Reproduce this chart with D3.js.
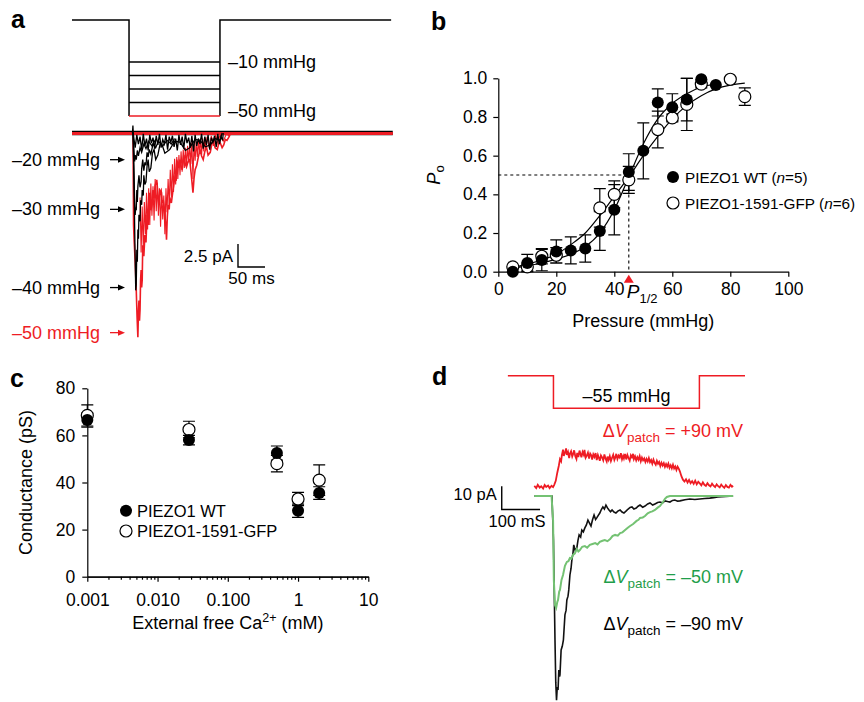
<!DOCTYPE html>
<html><head><meta charset="utf-8">
<script src="https://cdn.jsdelivr.net/npm/d3@7"></script>
<style>body{margin:0;background:#fff}</style>
</head><body>
<svg id="fig" width="864" height="702"></svg>
<script>
// ================= DATA =================
// Panel a: pressure steps (mmHg) and stimulus timing (ms)
const aStepLevels = [-10, -20, -30, -40, -50];
const aStimTimes = [0, 105.6, 274, 591];          // start, step on, step off, end
const aPeakLabels = ["–20 mmHg", "–30 mmHg", "–40 mmHg", "–50 mmHg"];
const aPeakValues = [-2.9, -8.3, -16.8, -21.7];     // pA, level of arrows
// Panel a current traces [time ms, current pA]
const aRed = [[0,0],[113,0],[114,-10],[115,-11.6],[117,-14],[119,-17.1],[120.5,-20],[122,-22.2],[123,-19.5],[124,-18.2],[125,-20.4],[126,-19.2],[127,-16],[128,-14.9],[129,-16.8],[130,-16],[131,-12.2],[133,-13.4],[135,-11.1],[137,-11.9],[139,-8.9],[141,-10],[142.5,-8.1],[144,-6.5],[146,-8.4],[148,-7.8],[150,-6.2],[152,-7.1],[154,-5.7],[157,-5.1],[159,-6.6],[161,-7.8],[163,-6.4],[165,-6.2],[167,-7.6],[169,-7.3],[171,-8.2],[172,-8.9],[174,-10.2],[175,-11.6],[176.5,-9.1],[178,-7.8],[180,-8.3],[181,-7],[184,-7.6],[187,-6.2],[189,-5.4],[191,-4.6],[193,-5.2],[194,-2.9],[197,-3.8],[200,-2.9],[202,-3.6],[204,-4],[206,-3.1],[207,-2.4],[210,-3.4],[212,-3.7],[215,-3.1],[218,-2.9],[221,-4.6],[224,-6.5],[226,-4.9],[228,-4],[231,-3.5],[234,-2.6],[237,-1.8],[240,-2.5],[243,-2.9],[246,-2],[249,-1.5],[252,-2.4],[256,-2.1],[259,-1.2],[261,-0.8],[265,-1.6],[269,-1.8],[272,-1.1],[274,-1],[278,-1.6],[281,-1.3],[284,-0.7],[287,-0.8],[291,-0.4],[294,0],[594,0]];
const aRedFlicker = [[126,-7],[128,-13],[130,-8],[132,-12.5],[134,-7.5],[136,-11],[138,-6.5],[140,-10.5],[142,-6],[144,-10],[146,-5.5],[148,-9],[150,-5.8],[152,-9.5],[154,-5],[156,-8.5],[158,-5.4],[160,-9],[162,-6],[164,-10.2],[166,-6.4],[168,-9.4],[170,-6.8],[172,-11],[174,-6],[176,-8.6],[178,-5],[180,-7.8],[182,-4],[184,-7],[186,-3.4],[188,-6.4],[190,-2.8],[192,-5.6],[194,-2.6],[196,-5],[198,-2.4],[200,-4.6],[202,-2],[204,-4.2],[206,-1.8],[208,-3.8],[210,-1.6],[212,-3.6],[214,-1.4],[216,-3.2],[218,-1.2],[220,-3.4],[222,-1],[224,-5],[226,-1.1],[228,-3],[230,-0.9],[232,-2.6],[234,-0.8],[236,-2.2],[238,-0.6],[240,-2.4],[242,-0.6],[244,-2],[246,-0.5],[248,-1.8],[250,-0.4],[254,-1.6],[258,-0.3],[262,-1.4],[266,-0.2],[270,-1.1],[274,-0.2],[280,-0.9],[286,-0.1],[292,-0.4]];
const aBlack40 = [[112,0],[112.8,0.8],[113.5,0],[114,-3],[115,-6.2],[116.5,-12],[118,-17.1],[119,-16.5],[120,-12.7],[121,-14],[122,-10.5],[123,-11.5],[124,-8.9],[126,-9.6],[127,-7.3],[129,-7.8],[130,-6.2],[132,-6.8],[133,-4.6],[135,-5.6],[137,-5.3],[139,-3.6],[141,-2.9],[143,-4.2],[146,-3.8],[149,-2.2],[152,-1.8],[155,-2.9],[159,-2.4],[163,-1.2],[167,-1.3],[172,-2.2],[181,-1.8],[190,-0.9],[200,-1],[210,-1.9],[218,-1.6],[228,-0.7],[237,-0.8],[247,-1.5],[256,-1.3],[265,-0.6],[274,-0.8],[278,0]];
const aBlack30 = [[113,0],[114.5,-3.5],[116,-7.4],[117,-8.9],[118,-8.1],[119,-8.4],[120,-6.2],[121,-7.5],[122,-5.8],[124,-4.6],[126,-5.9],[128,-5.3],[129,-3.9],[131,-2.9],[133,-4.1],[135,-3.2],[137,-3.5],[139,-2.1],[141,-2.6],[143,-1.8],[146,-2.3],[150,-1.2],[155,-1.6],[160,-0.9],[168,-1.4],[176,-0.8],[184,-1.2],[190,-0.6]];
const aBlack20 = [[113,0],[115,-2.2],[116,-3.1],[117,-2.4],[119,-2.9],[121,-1.9],[123,-2.5],[126,-1.6],[129,-2.1],[133,-1.2],[137,-1.7],[142,-0.9],[148,-1.4],[155,-0.7]];
const aFlicker = [[113,0],[114,-0.3],[117,-1.6],[120,-0.2],[123,-1.2],[126,-0.4],[129,-1.8],[132,-0.1],[135,-1.4],[138,-0.6],[141,-1.9],[144,-0.2],[147,-1.1],[150,-0.5],[153,-1.7],[156,-0.3],[159,-1.3],[162,-0.1],[165,-1.6],[168,-0.7],[171,-1.2],[174,-0.2],[177,-1.8],[180,-0.4],[183,-1.0],[186,-0.3],[189,-1.5],[192,-0.6],[195,-1.9],[198,-0.2],[201,-1.3],[204,-0.4],[207,-1.7],[210,-0.1],[213,-1.1],[216,-0.5],[219,-1.6],[222,-0.3],[225,-2.0],[228,-0.2],[231,-1.4],[234,-0.6],[237,-1.2],[240,-0.1],[243,-1.7],[246,-0.4],[249,-1.3],[252,-0.2],[255,-1.8],[258,-0.5],[261,-1.0],[264,-0.3],[267,-1.5],[270,-0.1],[273,-1.2],[276,-0.4],[279,-0.8],[280,0]];

// Panel b: open probability vs pressure
const bWTx   = [5,10,15,20,25,30,35,40,45,50,55,60,65,70,75];
const bWTy   = [0.0,0.045,0.06,0.105,0.11,0.12,0.21,0.32,0.515,0.625,0.875,0.85,0.89,0.995,0.965];
const bWTerr = [0,0.045,0.055,0.06,0.07,0.07,0.10,0.13,0.095,0.145,0.07,0.07,0.11,0,0];
const bGFPx  = [5,10,15,20,35,40,45,55,60,65,70,80,85];
const bGFPy  = [0.025,0.025,0.08,0.085,0.33,0.40,0.475,0.735,0.795,0.865,0.97,0.995,0.905];
const bGFPerr= [0,0.02,0.04,0.04,0.10,0.07,0.07,0.095,0.02,0.135,0.02,0,0.045];
const bFitWTx = [5,10,15,20,25,30,35,40,45,50,55,60,65,70,75];
const bFitWTy = [0.02,0.03,0.045,0.065,0.09,0.13,0.2,0.32,0.49,0.66,0.79,0.87,0.92,0.955,0.97];
const bFitGFPx = [5,10,15,20,25,30,35,40,45,50,55,60,65,70,75,80,85];
const bFitGFPy = [0.02,0.04,0.06,0.09,0.14,0.2,0.29,0.39,0.49,0.6,0.7,0.79,0.86,0.91,0.945,0.965,0.975];
const bHalf = 45;
const bXTicks = [0,20,40,60,80,100];
const bYTicks = [0,0.2,0.4,0.6,0.8,1.0];

// Panel c: conductance vs Ca2+
const cX = [0.001, 0.028, 0.5, 1, 2];
const cWT = [66.5, 58, 52.5, 28, 35.5];
const cWTerr = [3, 2, 3, 2.8, 2.7];
const cGFP = [68.5, 62.5, 48, 33, 41];
const cGFPerr = [4.5, 3.5, 3.5, 2.8, 6.5];
const cXTicks = [0.001, 0.01, 0.1, 1, 10];
const cXTickLabels = ["0.001", "0.010", "0.100", "1", "10"];
const cYTicks = [0, 20, 40, 60, 80];

// Panel d: -55 mmHg step, currents at three patch voltages [ms, pA]
const dStimTimes = [-69, 50, 431, 550];
const dStimLevel = -55;
const dRed = [[0,4.3],[5,3.4],[9,4.8],[14,3.6],[18,4.2],[23,3.2],[27,4.7],[31,3.9],[36,4.5],[40,3.4],[45,4.4],[49,3.8],[52,4.8],[56,6.5],[60,10],[64,13],[67,15.8],[70,14.9],[72,17.5],[75,19.9],[77,17.2],[80,18.6],[83,20.4],[85,17.6],[88,18.9],[91,16.3],[93,18.1],[96,19.2],[99,16.9],[101,17.8],[104,19.6],[107,17.1],[110,15.9],[112,18.5],[115,16.7],[118,19.5],[120,18.3],[123,16.6],[126,18.9],[129,17.7],[131,19.8],[134,16.4],[137,17.3],[140,18.6],[143,16.1],[146,18.2],[149,17.4],[151,15.6],[154,17.9],[157,16.8],[160,18.4],[163,15.4],[166,17.6],[169,16.2],[171,15.1],[174,17.4],[177,16.6],[180,15.3],[183,17.8],[186,16],[189,14.8],[191,16.9],[194,15.5],[197,17.1],[200,15],[203,16.4],[206,17.7],[209,15.5],[212,16.8],[214,18.1],[217,15.9],[220,17.3],[223,16.5],[226,18.4],[229,15.8],[232,17.2],[234,16.1],[237,18],[240,15.7],[243,17.6],[246,16.3],[249,15.2],[252,17.5],[255,16.6],[258,18.1],[260,15.9],[263,17],[266,15.3],[269,16.7],[272,15.6],[275,17.1],[278,14.9],[281,16.5],[284,15.3],[287,16.1],[290,14.6],[293,15.9],[296,14.8],[299,16.3],[302,14.5],[305,15.4],[308,13.9],[311,15.6],[314,14.2],[317,13.4],[320,15.1],[323,13.8],[326,14.6],[329,12.9],[332,14.3],[335,13.1],[338,14.1],[341,12.5],[344,13.7],[347,12.6],[350,13.9],[353,12.1],[356,13.2],[359,11.9],[362,13.4],[365,11.8],[368,12.7],[371,11.2],[374,12.6],[377,11.7],[380,10.6],[384,8.5],[388,7],[392,6.2],[396,7.2],[400,5.8],[404,6.9],[408,5.5],[412,6.4],[416,5.2],[420,6.6],[424,5],[428,6.1],[432,5.4],[436,4.6],[440,5.9],[444,4.8],[448,4.3],[452,5.5],[456,4.6],[460,4.1],[464,5.3],[468,4.4],[472,3.8],[476,5],[480,4.2],[484,3.7],[488,4.9],[492,4.1],[496,3.5],[500,4.7],[504,3.9],[508,3.6],[512,4.8],[516,4],[519,4.4]];
const dGreen = [[0,0],[45,0],[49,-10.3],[51,-36],[54,-46.8],[57,-48],[60,-45.5],[62,-44.6],[65,-41],[67,-40.3],[71,-36],[75,-33.9],[80,-30],[85,-28.3],[89,-28],[93,-26.6],[97,-26.8],[101,-25.3],[106,-24.6],[111,-22.7],[115,-23.8],[119,-23.2],[125,-21.8],[132,-21.5],[138,-22.2],[145,-21],[152,-20.6],[159,-20.2],[165,-20.8],[171,-19.7],[178,-19.2],[184,-18.9],[191,-19.4],[198,-18.5],[204,-17.2],[211,-16.7],[218,-17],[224,-15.9],[230,-15.6],[237,-14.6],[244,-13.6],[250,-12.9],[258,-12],[267,-10.7],[272,-10.2],[276,-9.4],[283,-9.2],[289,-8.6],[296,-7.4],[302,-6.9],[308,-6.6],[315,-6],[322,-5],[328,-4.3],[336,-2.6],[341,-1.2],[346,-0.4],[354,0],[519,0]];
const dBlack = [[0,0],[46,0],[50,-18.9],[54,-61.8],[56,-80],[58,-87.6],[60,-82],[62,-83.3],[64,-74.7],[66,-77.5],[67,-76.8],[70,-66.1],[73,-64.5],[76,-61.8],[80,-51],[83,-49],[85,-44.6],[88,-43],[90,-40.3],[93,-33.9],[96,-31],[98,-27.5],[101,-24.5],[103,-21],[107,-23.5],[111,-22.3],[114,-19],[117,-16.7],[121,-17.6],[124,-14.6],[128,-15.4],[132,-13.7],[136,-12.4],[140,-10.3],[144,-11.6],[148,-12.9],[152,-10.2],[156,-8.2],[160,-10.1],[163,-9.4],[167,-8.3],[171,-7.3],[175,-5.8],[179,-4.7],[183,-5.6],[187,-3.9],[191,-5.1],[195,-6],[199,-6.8],[203,-6],[208,-6.9],[213,-7.3],[218,-6.5],[224,-6],[229,-6.9],[234,-7.3],[240,-6.4],[245,-5.6],[250,-4.9],[255,-4.7],[260,-5.6],[266,-5.2],[271,-4.4],[276,-3.9],[283,-4.8],[289,-4.3],[296,-3.4],[302,-3],[309,-3.9],[315,-3.4],[322,-2.8],[328,-2.6],[335,-2.9],[341,-2.1],[348,-2.4],[354,-2.6],[361,-1.9],[367,-1.7],[374,-2.2],[380,-2.1],[393,-1.6],[406,-1.3],[419,-1.5],[432,-1.3],[445,-1.1],[458,-0.9],[468,-0.7],[479,-0.4],[500,-0.2],[519,0]];

// ================= DRAW =================
const FONT = '"Liberation Sans", Arial, Helvetica, sans-serif';
const RED = "#ee1c24", GREEN_TR = "#74c273", GREEN_TX = "#1f9e4a";
const svg = d3.select("#fig").attr("font-family", FONT);

function styleAxis(g, size) {
  g.selectAll("text").attr("font-family", FONT).attr("font-size", size).attr("fill", "#000");
  g.selectAll("line,path").attr("stroke", "#000").attr("stroke-width", 1.2);
}
function panelLabel(t, x, y) {
  svg.append("text").attr("x", x).attr("y", y).attr("font-size", 25).attr("font-weight", "bold").text(t);
}
function arrow(g, x1, x2, y, color) {
  g.append("line").attr("x1", x1).attr("x2", x2 - 5).attr("y1", y).attr("y2", y).attr("stroke", color).attr("stroke-width", 1.3);
  g.append("path").attr("d", `M${x2},${y} L${x2 - 7},${y - 3} L${x2 - 7},${y + 3} Z`).attr("fill", color);
}

// ---------- Panel a ----------
{
  const g = svg.append("g");
  const xA = d3.scaleLinear().domain([0, 600]).range([72, 396]);
  const yA = d3.scaleLinear().domain([0, -25]).range([133, 363]);
  const pA = d3.scaleLinear().domain([0, -10, -50]).range([20, 62, 116]);
  const [t0, tOn, tOff, tEnd] = aStimTimes;
  g.append("path").attr("fill", "none").attr("stroke", "#000").attr("stroke-width", 1.5)
    .attr("d", `M${xA(t0)},${pA(0)}H${xA(tOn)}V${pA(-50)}M${xA(tOff)},${pA(-50)}V${pA(0)}H${xA(tEnd)}`);
  aStepLevels.forEach(l => {
    g.append("line").attr("x1", xA(tOn)).attr("x2", xA(tOff)).attr("y1", pA(l)).attr("y2", pA(l))
      .attr("stroke", l === -50 ? RED : "#000").attr("stroke-width", 1.5);
  });
  g.append("text").attr("x", 228).attr("y", pA(-10) + 6).attr("font-size", 18).text("–10 mmHg");
  g.append("text").attr("x", 228).attr("y", pA(-50) + 0.5).attr("font-size", 18).text("–50 mmHg");

  const line = d3.line().x(d => xA(d[0])).y(d => yA(d[1]));
  // baselines (noisy band)
  g.append("line").attr("x1", xA(0)).attr("x2", xA(594)).attr("y1", yA(0)).attr("y2", yA(0)).attr("stroke", "#000").attr("stroke-width", 4.5);
  g.append("line").attr("x1", xA(0)).attr("x2", xA(594)).attr("y1", yA(0) + 0.5).attr("y2", yA(0) + 0.5).attr("stroke", RED).attr("stroke-width", 3.2);
  g.append("path").datum(aRed).attr("d", line).attr("fill", "none").attr("stroke", RED).attr("stroke-width", 1.6);
  g.append("path").datum(aRedFlicker).attr("d", line).attr("fill", "none").attr("stroke", RED).attr("stroke-width", 1.1);
  [aBlack40, aBlack30, aBlack20, aFlicker].forEach(s =>
    g.append("path").datum(s).attr("d", line).attr("fill", "none").attr("stroke", "#000").attr("stroke-width", 1.3));

  aPeakValues.forEach((v, i) => {
    const col = i === 3 ? RED : "#000";
    g.append("text").attr("x", 100).attr("y", yA(v) + 6).attr("text-anchor", "end").attr("font-size", 18).attr("fill", col).text(aPeakLabels[i]);
    arrow(g, 110, 125, yA(v), col);
  });
  // scale bar 2.5 pA / 50 ms
  const sbT = 307.4, sbI = -14.57;
  g.append("path").attr("fill", "none").attr("stroke", "#000").attr("stroke-width", 1.4)
    .attr("d", `M${xA(sbT)},${yA(sbI + 2.5)}V${yA(sbI)}H${xA(sbT + 50)}`);
  g.append("text").attr("x", xA(sbT) - 5).attr("y", yA(sbI) - 5.5).attr("text-anchor", "end").attr("font-size", 17).text("2.5 pA");
  g.append("text").attr("x", xA(sbT + 25)).attr("y", yA(sbI) + 16.5).attr("text-anchor", "middle").attr("font-size", 17).text("50 ms");
  panelLabel("a", 11, 28);
}

// ---------- Panel b ----------
{
  const g = svg.append("g");
  const xB = d3.scaleLinear().domain([0, 100]).range([498.3, 788.3]);
  const yB = d3.scaleLinear().domain([0, 1]).range([271.7, 78.3]);
  const ax = g.append("g").attr("transform", `translate(0,${yB(0)})`)
    .call(d3.axisBottom(xB).tickValues(bXTicks).tickSize(5).tickSizeOuter(0).tickPadding(6).tickFormat(d3.format("d")));
  styleAxis(ax, 17.5);
  const ay = g.append("g").attr("transform", `translate(${xB(0)},0)`)
    .call(d3.axisLeft(yB).tickValues(bYTicks).tickSize(5).tickSizeOuter(0).tickPadding(6).tickFormat(d3.format(".1f")));
  styleAxis(ay, 17.5);

  // dashed P1/2 guides
  g.append("path").attr("fill", "none").attr("stroke", "#000").attr("stroke-width", 1.1).attr("stroke-dasharray", "3,3")
    .attr("d", `M${xB(0)},${yB(0.5)}H${xB(bHalf)}V${yB(0)}`);
  g.append("path").attr("fill", RED).attr("d", `M${xB(bHalf)},${yB(0) + 3} l5,8 h-10 Z`);
  const p12 = g.append("text").attr("x", xB(bHalf) - 2).attr("y", 297.5).attr("font-size", 19);
  p12.append("tspan").attr("font-style", "italic").text("P");
  p12.append("tspan").attr("font-size", 13).attr("dy", 5).text("1/2");

  const line = d3.line().x(d => xB(d[0])).y(d => yB(d[1])).curve(d3.curveMonotoneX);
  g.append("path").datum(d3.zip(bFitWTx, bFitWTy)).attr("d", line).attr("fill", "none").attr("stroke", "#000").attr("stroke-width", 1.2);
  g.append("path").datum(d3.zip(bFitGFPx, bFitGFPy)).attr("d", line).attr("fill", "none").attr("stroke", "#000").attr("stroke-width", 1.2);

  function errBars(xs, ys, es) {
    xs.forEach((x, i) => {
      if (!es[i]) return;
      const y1 = yB(ys[i] - es[i]), y2 = yB(ys[i] + es[i]), cx = xB(x);
      g.append("path").attr("fill", "none").attr("stroke", "#000").attr("stroke-width", 1.2)
        .attr("d", `M${cx},${y1}V${y2}M${cx - 6},${y1}h12M${cx - 6},${y2}h12`);
    });
  }
  errBars(bWTx, bWTy, bWTerr);
  errBars(bGFPx, bGFPy, bGFPerr);
  bGFPx.forEach((x, i) => g.append("circle").attr("cx", xB(x)).attr("cy", yB(bGFPy[i])).attr("r", 6).attr("fill", "#fff").attr("stroke", "#000").attr("stroke-width", 1.2));
  bWTx.forEach((x, i) => g.append("circle").attr("cx", xB(x)).attr("cy", yB(bWTy[i])).attr("r", 6).attr("fill", "#000"));

  // legend
  g.append("circle").attr("cx", 673).attr("cy", 177).attr("r", 6).attr("fill", "#000");
  g.append("circle").attr("cx", 673).attr("cy", 203).attr("r", 6).attr("fill", "#fff").attr("stroke", "#000").attr("stroke-width", 1.2);
  const l1 = g.append("text").attr("x", 685).attr("y", 182.5).attr("font-size", 15.3);
  l1.append("tspan").text("PIEZO1 WT (");
  l1.append("tspan").attr("font-style", "italic").text("n");
  l1.append("tspan").text("=5)");
  const l2 = g.append("text").attr("x", 685).attr("y", 208.5).attr("font-size", 15.3);
  l2.append("tspan").text("PIEZO1-1591-GFP (");
  l2.append("tspan").attr("font-style", "italic").text("n");
  l2.append("tspan").text("=6)");

  // axis titles
  g.append("text").attr("x", (xB(0) + xB(100)) / 2).attr("y", 327).attr("text-anchor", "middle").attr("font-size", 18).text("Pressure (mmHg)");
  const yt = g.append("text").attr("transform", `translate(440,${yB(0.5)}) rotate(-90)`).attr("text-anchor", "middle").attr("font-size", 18);
  yt.append("tspan").attr("font-style", "italic").text("P");
  yt.append("tspan").attr("font-size", 13).attr("dy", 4).text("o");
  panelLabel("b", 431, 30);
}

// ---------- Panel c ----------
{
  const g = svg.append("g");
  const xC = d3.scaleLog().domain([0.001, 10]).range([87.3, 368.3]);
  const yC = d3.scaleLinear().domain([0, 80]).range([576.7, 388.3]);
  const minor = xC.ticks().filter(v => !cXTicks.some(m => Math.abs(m - v) / m < 1e-6));
  const am = g.append("g").attr("transform", `translate(0,${yC(0)})`)
    .call(d3.axisBottom(xC).tickValues(minor).tickSize(3).tickSizeOuter(0).tickFormat(""));
  styleAxis(am, 17.5);
  const ax = g.append("g").attr("transform", `translate(0,${yC(0)})`)
    .call(d3.axisBottom(xC).tickValues(cXTicks).tickSize(5).tickSizeOuter(0).tickPadding(12).tickFormat((d, i) => cXTickLabels[i]));
  styleAxis(ax, 17.5);
  const ay = g.append("g").attr("transform", `translate(${xC(0.001)},0)`)
    .call(d3.axisLeft(yC).tickValues(cYTicks).tickSize(5).tickSizeOuter(0).tickPadding(7));
  styleAxis(ay, 17.5);

  function errBars(ys, es) {
    cX.forEach((x, i) => {
      const y1 = yC(ys[i] - es[i]), y2 = yC(ys[i] + es[i]), cx = xC(x);
      g.append("path").attr("fill", "none").attr("stroke", "#000").attr("stroke-width", 1.2)
        .attr("d", `M${cx},${y1}V${y2}M${cx - 6},${y1}h12M${cx - 6},${y2}h12`);
    });
  }
  errBars(cWT, cWTerr);
  errBars(cGFP, cGFPerr);
  cX.forEach((x, i) => g.append("circle").attr("cx", xC(x)).attr("cy", yC(cGFP[i])).attr("r", 6).attr("fill", "#fff").attr("stroke", "#000").attr("stroke-width", 1.2));
  cX.forEach((x, i) => g.append("circle").attr("cx", xC(x)).attr("cy", yC(cWT[i])).attr("r", 6).attr("fill", "#000"));

  g.append("circle").attr("cx", 126).attr("cy", 510.7).attr("r", 6).attr("fill", "#000");
  g.append("circle").attr("cx", 126).attr("cy", 531).attr("r", 6).attr("fill", "#fff").attr("stroke", "#000").attr("stroke-width", 1.2);
  g.append("text").attr("x", 137).attr("y", 516.7).attr("font-size", 16.5).text("PIEZO1 WT");
  g.append("text").attr("x", 137).attr("y", 537).attr("font-size", 16.5).text("PIEZO1-1591-GFP");

  const xt = g.append("text").attr("x", (xC(0.001) + xC(10)) / 2).attr("y", 629).attr("text-anchor", "middle").attr("font-size", 18);
  xt.append("tspan").text("External free Ca");
  xt.append("tspan").attr("font-size", 12.5).attr("dy", -7).text("2+");
  xt.append("tspan").attr("dy", 7).text(" (mM)");
  g.append("text").attr("transform", `translate(32,${(yC(0) + yC(80)) / 2}) rotate(-90)`).attr("text-anchor", "middle").attr("font-size", 18).text("Conductance (pS)");
  panelLabel("c", 10, 387);
}

// ---------- Panel d ----------
{
  const g = svg.append("g");
  const xD = d3.scaleLinear().domain([0, 520]).range([534.3, 733.5]);
  const yD = d3.scaleLinear().domain([0, -10]).range([496, 519.3]);
  const pD = d3.scaleLinear().domain([0, -55]).range([375.7, 408.3]);
  const [s0, sOn, sOff, sEnd] = dStimTimes;
  g.append("path").attr("fill", "none").attr("stroke", RED).attr("stroke-width", 1.5)
    .attr("d", `M${xD(s0)},${pD(0)}H${xD(sOn)}V${pD(dStimLevel)}H${xD(sOff)}V${pD(0)}H${xD(sEnd)}`);
  g.append("text").attr("x", (xD(sOn) + xD(sOff)) / 2).attr("y", 401.5).attr("text-anchor", "middle").attr("font-size", 18).text("–55 mmHg");

  const line = d3.line().x(d => xD(d[0])).y(d => yD(d[1]));
  g.append("path").datum(dBlack).attr("d", line).attr("fill", "none").attr("stroke", "#111").attr("stroke-width", 1.6);
  g.append("path").datum(dGreen).attr("d", line).attr("fill", "none").attr("stroke", GREEN_TR).attr("stroke-width", 2);
  g.append("path").datum(dRed).attr("d", line).attr("fill", "none").attr("stroke", RED).attr("stroke-width", 1.8);

  // scale bar 10 pA / 100 ms
  const sbT = -85, sbI = -5.8;
  g.append("path").attr("fill", "none").attr("stroke", "#000").attr("stroke-width", 1.4)
    .attr("d", `M${xD(sbT)},${yD(sbI + 10)}V${yD(sbI)}H${xD(sbT + 100)}`);
  g.append("text").attr("x", xD(sbT) - 5).attr("y", 500).attr("text-anchor", "end").attr("font-size", 16.5).text("10 pA");
  g.append("text").attr("x", xD(sbT + 40)).attr("y", 526.7).attr("text-anchor", "middle").attr("font-size", 16.5).text("100 mS");

  function vLabel(y, sign, col) {
    const t = g.append("text").attr("x", 743).attr("y", y).attr("text-anchor", "end").attr("font-size", 18).attr("fill", col);
    t.append("tspan").text("Δ");
    t.append("tspan").attr("font-style", "italic").text("V");
    t.append("tspan").attr("font-size", 13.5).attr("dy", 5).text("patch");
    t.append("tspan").attr("dy", -5).text(" = " + sign + " mV");
  }
  vLabel(436.7, "+90", RED);
  vLabel(583.3, "–50", GREEN_TX);
  vLabel(630, "–90", "#000");
  panelLabel("d", 432, 385);
}
</script>
</body></html>
